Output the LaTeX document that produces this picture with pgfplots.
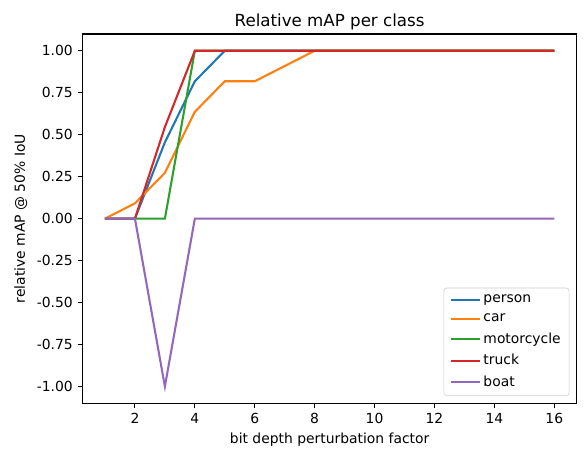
\documentclass[border=7pt]{standalone}
\usepackage{pgfplots}
\pgfplotsset{compat=1.18}
\usepackage{fontspec}
\setmainfont{DejaVu Sans}
\definecolor{tabblue}{HTML}{1F77B4}
\definecolor{taborange}{HTML}{FF7F0E}
\definecolor{tabgreen}{HTML}{2CA02C}
\definecolor{tabred}{HTML}{D62728}
\definecolor{tabpurple}{HTML}{9467BD}
\begin{document}
\begin{tikzpicture}
\begin{axis}[
  scale only axis,
  width=356pt, height=266pt,
  xmin=0.25, xmax=16.75, ymin=-1.1, ymax=1.1,
  xtick={2,4,...,16},
  ytick={-1,-0.75,...,1},
  yticklabel style={/pgf/number format/.cd,fixed,fixed zerofill,precision=2},
  /pgf/number format/assume math mode=true,
  tick label style={font=\fontsize{10}{12}\selectfont},
  label style={font=\fontsize{10}{12}\selectfont},
  title style={font=\fontsize{12}{14}\selectfont, yshift=-7pt},
  axis line style={line width=0.8pt},
  every tick/.style={black, line width=0.8pt},
  tick align=outside, tick pos=left,
  major tick length=3.5pt,
  title={Relative mAP per class},
  xlabel={bit depth perturbation factor},
  ylabel={relative mAP @ 50\% IoU},
  legend cell align=left,
  legend style={font=\fontsize{10}{12}\selectfont, draw=black!20, rounded corners=2pt,
    inner xsep=4pt, inner ysep=3pt, at={(0.985,0.02)}, anchor=south east, row sep=2.5pt,
    /tikz/every even column/.append style={column sep=2pt}},
  legend image code/.code={\draw[#1, line width=1.5pt] (0pt,0pt) -- (21pt,0pt);},
  every axis plot/.append style={line width=1.5pt},
]
\addplot[tabblue] coordinates {(1,0)(2,0)(3,0.4545)(4,0.8182)(5,1)(6,1)(7,1)(8,1)(9,1)(10,1)(11,1)(12,1)(13,1)(14,1)(15,1)(16,1)};
\addlegendentry{person}
\addplot[taborange] coordinates {(1,0)(2,0.0909)(3,0.2727)(4,0.6364)(5,0.8182)(6,0.8182)(7,0.9091)(8,1)(9,1)(10,1)(11,1)(12,1)(13,1)(14,1)(15,1)(16,1)};
\addlegendentry{car}
\addplot[tabgreen] coordinates {(1,0)(2,0)(3,0)(4,1)(5,1)(6,1)(7,1)(8,1)(9,1)(10,1)(11,1)(12,1)(13,1)(14,1)(15,1)(16,1)};
\addlegendentry{motorcycle}
\addplot[tabred] coordinates {(1,0)(2,0)(3,0.5455)(4,1)(5,1)(6,1)(7,1)(8,1)(9,1)(10,1)(11,1)(12,1)(13,1)(14,1)(15,1)(16,1)};
\addlegendentry{truck}
\addplot[tabpurple] coordinates {(1,0)(2,0)(3,-1)(4,0)(5,0)(6,0)(7,0)(8,0)(9,0)(10,0)(11,0)(12,0)(13,0)(14,0)(15,0)(16,0)};
\addlegendentry{boat}
\end{axis}
\end{tikzpicture}
\end{document}
